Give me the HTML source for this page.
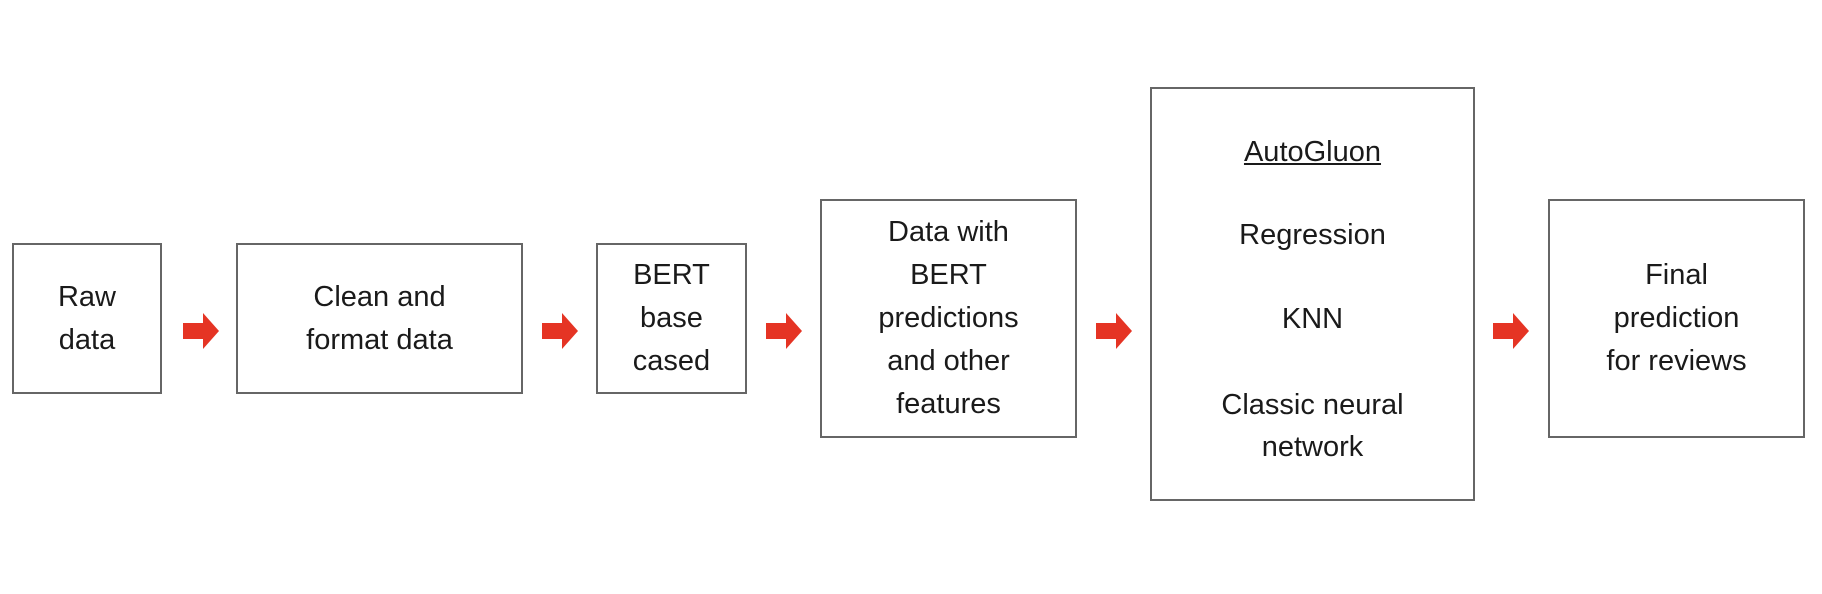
<!DOCTYPE html>
<html><head><style>
body{margin:0;width:1822px;height:594px;background:#fff;position:relative;overflow:hidden;font-family:"Liberation Sans",sans-serif;color:#1a1a1a}
.b{position:absolute;border:2px solid #666;box-sizing:border-box;display:flex;align-items:center;justify-content:center;text-align:center;font-size:29px;line-height:43px}
.a{position:absolute;top:313px;width:36px;height:36px}
.t{position:absolute;left:1150px;width:325px;text-align:center;font-size:29px}
</style></head><body>
<div class="b" style="left:12px;top:243px;width:150px;height:151px">Raw<br>data</div>
<div class="b" style="left:236px;top:243px;width:287px;height:151px">Clean and<br>format data</div>
<div class="b" style="left:596px;top:243px;width:151px;height:151px">BERT<br>base<br>cased</div>
<div class="b" style="left:820px;top:199px;width:257px;height:239px">Data with<br>BERT<br>predictions<br>and other<br>features</div>
<div class="b" style="left:1150px;top:87px;width:325px;height:414px"></div>
<div class="t" style="top:136px;text-decoration:underline">AutoGluon</div>
<div class="t" style="top:219px">Regression</div>
<div class="t" style="top:303px">KNN</div>
<div class="t" style="top:389px">Classic neural</div>
<div class="t" style="top:431px">network</div>
<div class="b" style="left:1548px;top:199px;width:257px;height:239px">Final<br>prediction<br>for reviews</div>
<svg class="a" style="left:183px" viewBox="0 0 36 36"><polygon points="0,10 20,10 20,0 36,18 20,36 20,26 0,26" fill="#e53424"/></svg>
<svg class="a" style="left:542px" viewBox="0 0 36 36"><polygon points="0,10 20,10 20,0 36,18 20,36 20,26 0,26" fill="#e53424"/></svg>
<svg class="a" style="left:766px" viewBox="0 0 36 36"><polygon points="0,10 20,10 20,0 36,18 20,36 20,26 0,26" fill="#e53424"/></svg>
<svg class="a" style="left:1096px" viewBox="0 0 36 36"><polygon points="0,10 20,10 20,0 36,18 20,36 20,26 0,26" fill="#e53424"/></svg>
<svg class="a" style="left:1493px" viewBox="0 0 36 36"><polygon points="0,10 20,10 20,0 36,18 20,36 20,26 0,26" fill="#e53424"/></svg>
</body></html>
